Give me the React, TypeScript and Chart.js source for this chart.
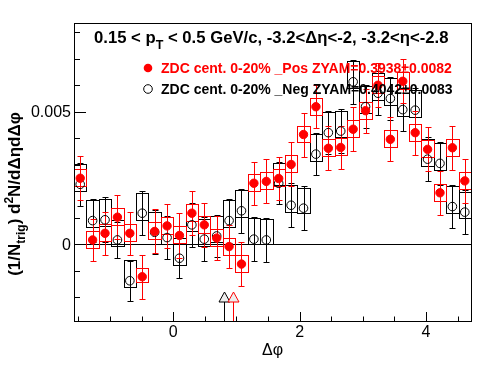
import { useEffect, useRef } from "react";
import { Chart, registerables } from "chart.js";

Chart.register(...registerables);

// ---------- data ----------
const N_BINS = 32;
const X_MIN = -Math.PI / 2;
const X_MAX = (3 * Math.PI) / 2;
const Y_MIN = -0.0029;
const Y_MAX = 0.00835;

// ZDC cent. 0-20% _Pos (red, filled)
const posValues = [
  0.00249, 0.00016, 0.00041, 0.00102, 0.00041, -0.00123, 0.00048, 0.00069,
  0.00033, 0.00117, 0.00073, 0.00023, -0.00009, -0.00075, 0.0023, 0.00237,
  0.00248, 0.00301, 0.00414, 0.00519, 0.00362, 0.00365, 0.00434, 0.00504,
  0.006, 0.00396, 0.00615, 0.00421, 0.00358, 0.00194, 0.00364, 0.00239,
];
const posStatErr = [
  0.00083, 0.00079, 0.00082, 0.00084, 0.0008, 0.00083, 0.00083, 0.00082,
  0.00086, 0.00082, 0.00082, 0.00082, 0.0008, 0.00083, 0.00082, 0.00083,
  0.00083, 0.00083, 0.00083, 0.00082, 0.00083, 0.00083, 0.00082, 0.00083,
  0.00083, 0.00083, 0.00083, 0.00083, 0.00083, 0.00083, 0.00083, 0.00083,
];
const posSysUp = [
  0.00034, 0.00034, 0.00034, 0.00034, 0.00034, 0.00033, 0.00034, 0.00034,
  0.00034, 0.00034, 0.00034, 0.00034, 0.00034, 0.00034, 0.00034, 0.00034,
  0.00034, 0.00036, 0.00034, 0.00034, 0.00034, 0.00034, 0.00034, 0.00034,
  0.00034, 0.00034, 0.00034, 0.00034, 0.00034, 0.00034, 0.00034, 0.00034,
];
const posSysDown = [
  0.0003, 0.0003, 0.0003, 0.0003, 0.0003, 0.00018, 0.0003, 0.0003,
  0.0003, 0.0003, 0.0003, 0.0003, 0.0003, 0.0003, 0.0003, 0.0003,
  0.0003, 0.0003, 0.0003, 0.0003, 0.0003, 0.0003, 0.0003, 0.0003,
  0.0003, 0.0003, 0.0003, 0.0003, 0.0003, 0.0003, 0.0003, 0.0003,
];

// ZDC cent. 0-20% _Neg (black, open)
const negValues = [
  0.00226, 0.00089, 0.00092, 0.00016, -0.00138, 0.00117, 0.00045, 0.00025,
  -0.00053, 0.00073, 0.00019, 0.00031, 0.00089, 0.00126, 0.00019, 0.00016,
  0.0023, 0.00147, 0.00136, 0.0034, 0.00421, 0.00427, 0.00613, 0.00519,
  0.0057, 0.0055, 0.00508, 0.00506, 0.00321, 0.00305, 0.00142, 0.00121,
];
const negStatErr = [
  0.0008, 0.00082, 0.00085, 0.00068, 0.00075, 0.00082, 0.00083, 0.0008,
  0.00075, 0.00083, 0.00082, 0.0008, 0.00083, 0.00082, 0.00082, 0.00082,
  0.0008, 0.00083, 0.00082, 0.0008, 0.00082, 0.00083, 0.00082, 0.00082,
  0.00082, 0.00082, 0.00082, 0.00082, 0.00082, 0.00082, 0.00082, 0.00082,
];
const negSysUp = [
  0.00077, 0.00077, 0.00077, 0.00077, 0.00077, 0.00075, 0.00077, 0.00077,
  0.00077, 0.00077, 0.00077, 0.00077, 0.00077, 0.00077, 0.0008, 0.0008,
  0.00078, 0.00077, 0.00077, 0.00076, 0.00077, 0.00077, 0.00077, 0.00077,
  0.00077, 0.00077, 0.00077, 0.00077, 0.00077, 0.00077, 0.00077, 0.00077,
];
const negSysDown = [
  0.00024, 0.00024, 0.00024, 0.00024, 0.00024, 0.00024, 0.00024, 0.00024,
  0.00024, 0.00024, 0.00024, 0.00024, 0.00024, 0.00024, 0.00019, 0.00016,
  0.00007, 0.00024, 0.00017, 0.00025, 0.00024, 0.00024, 0.00024, 0.00024,
  0.00024, 0.00024, 0.00024, 0.00024, 0.00024, 0.00024, 0.00024, 0.00024,
];

// ZYAM minimum positions (arrows)
const negZyamPos = 0.805;
const posZyamPos = 0.952;

const xMajorTicks = [0, 2, 4];
const xTickLabels = ["0", "2", "4"];
const xMinorTicks = [-1.5, -1, -0.5, 0.5, 1, 1.5, 2.5, 3, 3.5, 4.5];
const yMajorTicks = [0, 0.005];
const yTickLabels = ["0", "0.005"];
const yMinorTicks = [-0.002, -0.001, 0.001, 0.002, 0.003, 0.004, 0.006, 0.007, 0.008];

const titleMain = "0.15 < p";
const titleSub = "T";
const titleRest = " < 0.5 GeV/c, -3.2<\u0394\u03b7<-2, -3.2<\u03b7<-2.8";
const posLabel = "ZDC cent. 0-20% _Pos ZYAM=0.3938\u00b10.0082";
const negLabel = "ZDC cent. 0-20% _Neg ZYAM=0.4042\u00b10.0083";
const xTitle = "\u0394\u03c6";

const RED = "#ff0000";
const BLACK = "#000000";
const FONT = "'Liberation Sans', Arial, Helvetica, sans-serif";

const binWidth = (X_MAX - X_MIN) / N_BINS;
const binCenters = Array.from({ length: N_BINS }, (_, i) => X_MIN + (i + 0.5) * binWidth);

function toPoints(vals: number[]) {
  return vals.map((v, i) => ({ x: binCenters[i], y: v }));
}

const rootPlugin = {
  id: "rootStyle",
  beforeDatasetsDraw(chart: any) {
    const { ctx, chartArea, scales } = chart;
    const xs = scales.x;
    const ys = scales.y;
    ctx.save();
    ctx.lineWidth = 1;
    // zero line
    const y0 = Math.round(ys.getPixelForValue(0)) + 0.5;
    ctx.strokeStyle = BLACK;
    ctx.beginPath();
    ctx.moveTo(chartArea.left, y0);
    ctx.lineTo(chartArea.right, y0);
    ctx.stroke();

    const drawSeries = (vals: number[], err: number[], up: number[], dn: number[], color: string) => {
      ctx.strokeStyle = color;
      ctx.lineWidth = 1;
      // systematic boxes
      for (let i = 0; i < vals.length; i++) {
        const xl = Math.round(xs.getPixelForValue(binCenters[i] - binWidth / 2)) + 0.5;
        const xr = Math.round(xs.getPixelForValue(binCenters[i] + binWidth / 2)) + 0.5;
        const yt = Math.round(ys.getPixelForValue(vals[i] + up[i])) + 0.5;
        const yb = Math.round(ys.getPixelForValue(vals[i] - dn[i])) + 0.5;
        ctx.strokeRect(xl, yt, xr - xl, yb - yt);
      }
      // stat error bars
      for (let i = 0; i < vals.length; i++) {
        const x = Math.round(xs.getPixelForValue(binCenters[i])) + 0.5;
        const yt = Math.round(ys.getPixelForValue(vals[i] + err[i])) + 0.5;
        const yb = Math.round(ys.getPixelForValue(vals[i] - err[i])) + 0.5;
        ctx.beginPath();
        ctx.moveTo(x, yt);
        ctx.lineTo(x, yb);
        ctx.moveTo(x - 3, yt);
        ctx.lineTo(x + 3, yt);
        ctx.moveTo(x - 3, yb);
        ctx.lineTo(x + 3, yb);
        ctx.stroke();
      }
    };
    drawSeries(negValues, negStatErr, negSysUp, negSysDown, BLACK);
    drawSeries(posValues, posStatErr, posSysUp, posSysDown, RED);
    ctx.restore();
  },
  afterDraw(chart: any) {
    const { ctx, chartArea, scales } = chart;
    const xs = scales.x;
    const ys = scales.y;
    const { left, right, top, bottom } = chartArea;
    ctx.save();
    ctx.lineWidth = 1;
    ctx.strokeStyle = BLACK;
    // frame
    ctx.strokeRect(left + 0.5, top + 0.5, right - left, bottom - top);
    // ticks
    const yMajLen = 12, yMinLen = 6, xMajLen = 9, xMinLen = 4.5;
    ctx.beginPath();
    xMajorTicks.forEach((t) => {
      const x = Math.round(xs.getPixelForValue(t)) + 0.5;
      ctx.moveTo(x, bottom);
      ctx.lineTo(x, bottom - xMajLen);
    });
    xMinorTicks.forEach((t) => {
      const x = Math.round(xs.getPixelForValue(t)) + 0.5;
      ctx.moveTo(x, bottom);
      ctx.lineTo(x, bottom - xMinLen);
    });
    yMajorTicks.forEach((t) => {
      const y = Math.round(ys.getPixelForValue(t)) + 0.5;
      ctx.moveTo(left, y);
      ctx.lineTo(left + yMajLen, y);
    });
    yMinorTicks.forEach((t) => {
      const y = Math.round(ys.getPixelForValue(t)) + 0.5;
      ctx.moveTo(left, y);
      ctx.lineTo(left + yMinLen, y);
    });
    ctx.stroke();

    // tick labels
    ctx.fillStyle = BLACK;
    ctx.font = `16px ${FONT}`;
    ctx.textAlign = "right";
    ctx.textBaseline = "middle";
    yMajorTicks.forEach((t, i) => {
      ctx.fillText(yTickLabels[i], left - 3, ys.getPixelForValue(t) + 1);
    });
    ctx.textAlign = "center";
    ctx.textBaseline = "alphabetic";
    xMajorTicks.forEach((t, i) => {
      ctx.fillText(xTickLabels[i], xs.getPixelForValue(t), bottom + 16);
    });
    // x title
    ctx.font = `16px ${FONT}`;
    ctx.fillText(xTitle, (left + right) / 2, bottom + 34);

    // y title (rotated)
    ctx.save();
    ctx.translate(20, 194);
    ctx.rotate(-Math.PI / 2);
    const big = `bold 17px ${FONT}`;
    const small = `bold 12px ${FONT}`;
    const parts: { t: string; f: string; dy: number }[] = [
      { t: "(1/N", f: big, dy: 0 },
      { t: "trig", f: small, dy: 5 },
      { t: ") d", f: big, dy: 0 },
      { t: "2", f: small, dy: -7 },
      { t: "N/d\u0394\u03b7d\u0394\u03c6", f: big, dy: 0 },
    ];
    let total = 0;
    parts.forEach((p) => {
      ctx.font = p.f;
      total += ctx.measureText(p.t).width;
    });
    let cx = -total / 2;
    ctx.textAlign = "left";
    parts.forEach((p) => {
      ctx.font = p.f;
      ctx.fillText(p.t, cx, p.dy);
      cx += ctx.measureText(p.t).width;
    });
    ctx.restore();

    // title
    ctx.textAlign = "left";
    ctx.font = `bold 16.7px ${FONT}`;
    let tx = 94;
    const ty = 43;
    ctx.fillText(titleMain, tx, ty);
    tx += ctx.measureText(titleMain).width;
    ctx.font = `bold 12.5px ${FONT}`;
    ctx.fillText(titleSub, tx, ty + 6);
    tx += ctx.measureText(titleSub).width;
    ctx.font = `bold 16.7px ${FONT}`;
    ctx.fillText(titleRest, tx, ty);

    // legend
    ctx.font = `bold 14px ${FONT}`;
    ctx.fillStyle = RED;
    ctx.beginPath();
    ctx.arc(148, 68, 4.3, 0, Math.PI * 2);
    ctx.fill();
    ctx.fillText(posLabel, 161, 73);
    ctx.fillStyle = BLACK;
    ctx.strokeStyle = BLACK;
    ctx.beginPath();
    ctx.arc(148, 89, 4.3, 0, Math.PI * 2);
    ctx.stroke();
    ctx.fillText(negLabel, 161, 94);

    // ZYAM arrows
    const arrow = (xv: number, color: string) => {
      const x = Math.round(xs.getPixelForValue(xv)) + 0.5;
      const apex = 292;
      const base = 302;
      ctx.fillStyle = "#eeeeee";
      ctx.strokeStyle = color;
      ctx.beginPath();
      ctx.moveTo(x, apex);
      ctx.lineTo(x - 5.5, base);
      ctx.lineTo(x + 5.5, base);
      ctx.closePath();
      ctx.fill();
      ctx.stroke();
      ctx.beginPath();
      ctx.moveTo(x, base);
      ctx.lineTo(x, bottom);
      ctx.stroke();
    };
    arrow(negZyamPos, BLACK);
    arrow(posZyamPos, RED);
    ctx.restore();
  },
};

export default function App() {
  const canvasRef = useRef<HTMLCanvasElement | null>(null);
  useEffect(() => {
    const canvas = canvasRef.current;
    if (!canvas) return;
    const chart = new Chart(canvas, {
      type: "scatter",
      data: {
        datasets: [
          {
            label: posLabel,
            data: toPoints(posValues),
            pointStyle: "circle",
            pointRadius: 4.2,
            pointBackgroundColor: RED,
            pointBorderColor: RED,
            pointBorderWidth: 1,
            order: 0,
          },
          {
            label: negLabel,
            data: toPoints(negValues),
            pointStyle: "circle",
            pointRadius: 4.3,
            pointBackgroundColor: "rgba(0,0,0,0)",
            pointBorderColor: BLACK,
            pointBorderWidth: 1,
            order: 1,
          },
        ],
      },
      options: {
        responsive: false,
        animation: false,
        events: [],
        layout: { padding: { left: 74, right: 25, top: 23, bottom: 53 } },
        scales: {
          x: { type: "linear", min: X_MIN, max: X_MAX, display: false },
          y: { type: "linear", min: Y_MIN, max: Y_MAX, display: false },
        },
        plugins: { legend: { display: false }, tooltip: { enabled: false } },
      },
      plugins: [rootPlugin],
    });
    return () => chart.destroy();
  }, []);
  return (
    <div style={{ position: "fixed", left: 0, top: 0, width: 496, height: 374, background: "#fff" }}>
      <canvas ref={canvasRef} width={496} height={374} style={{ width: 496, height: 374, display: "block" }} />
    </div>
  );
}
